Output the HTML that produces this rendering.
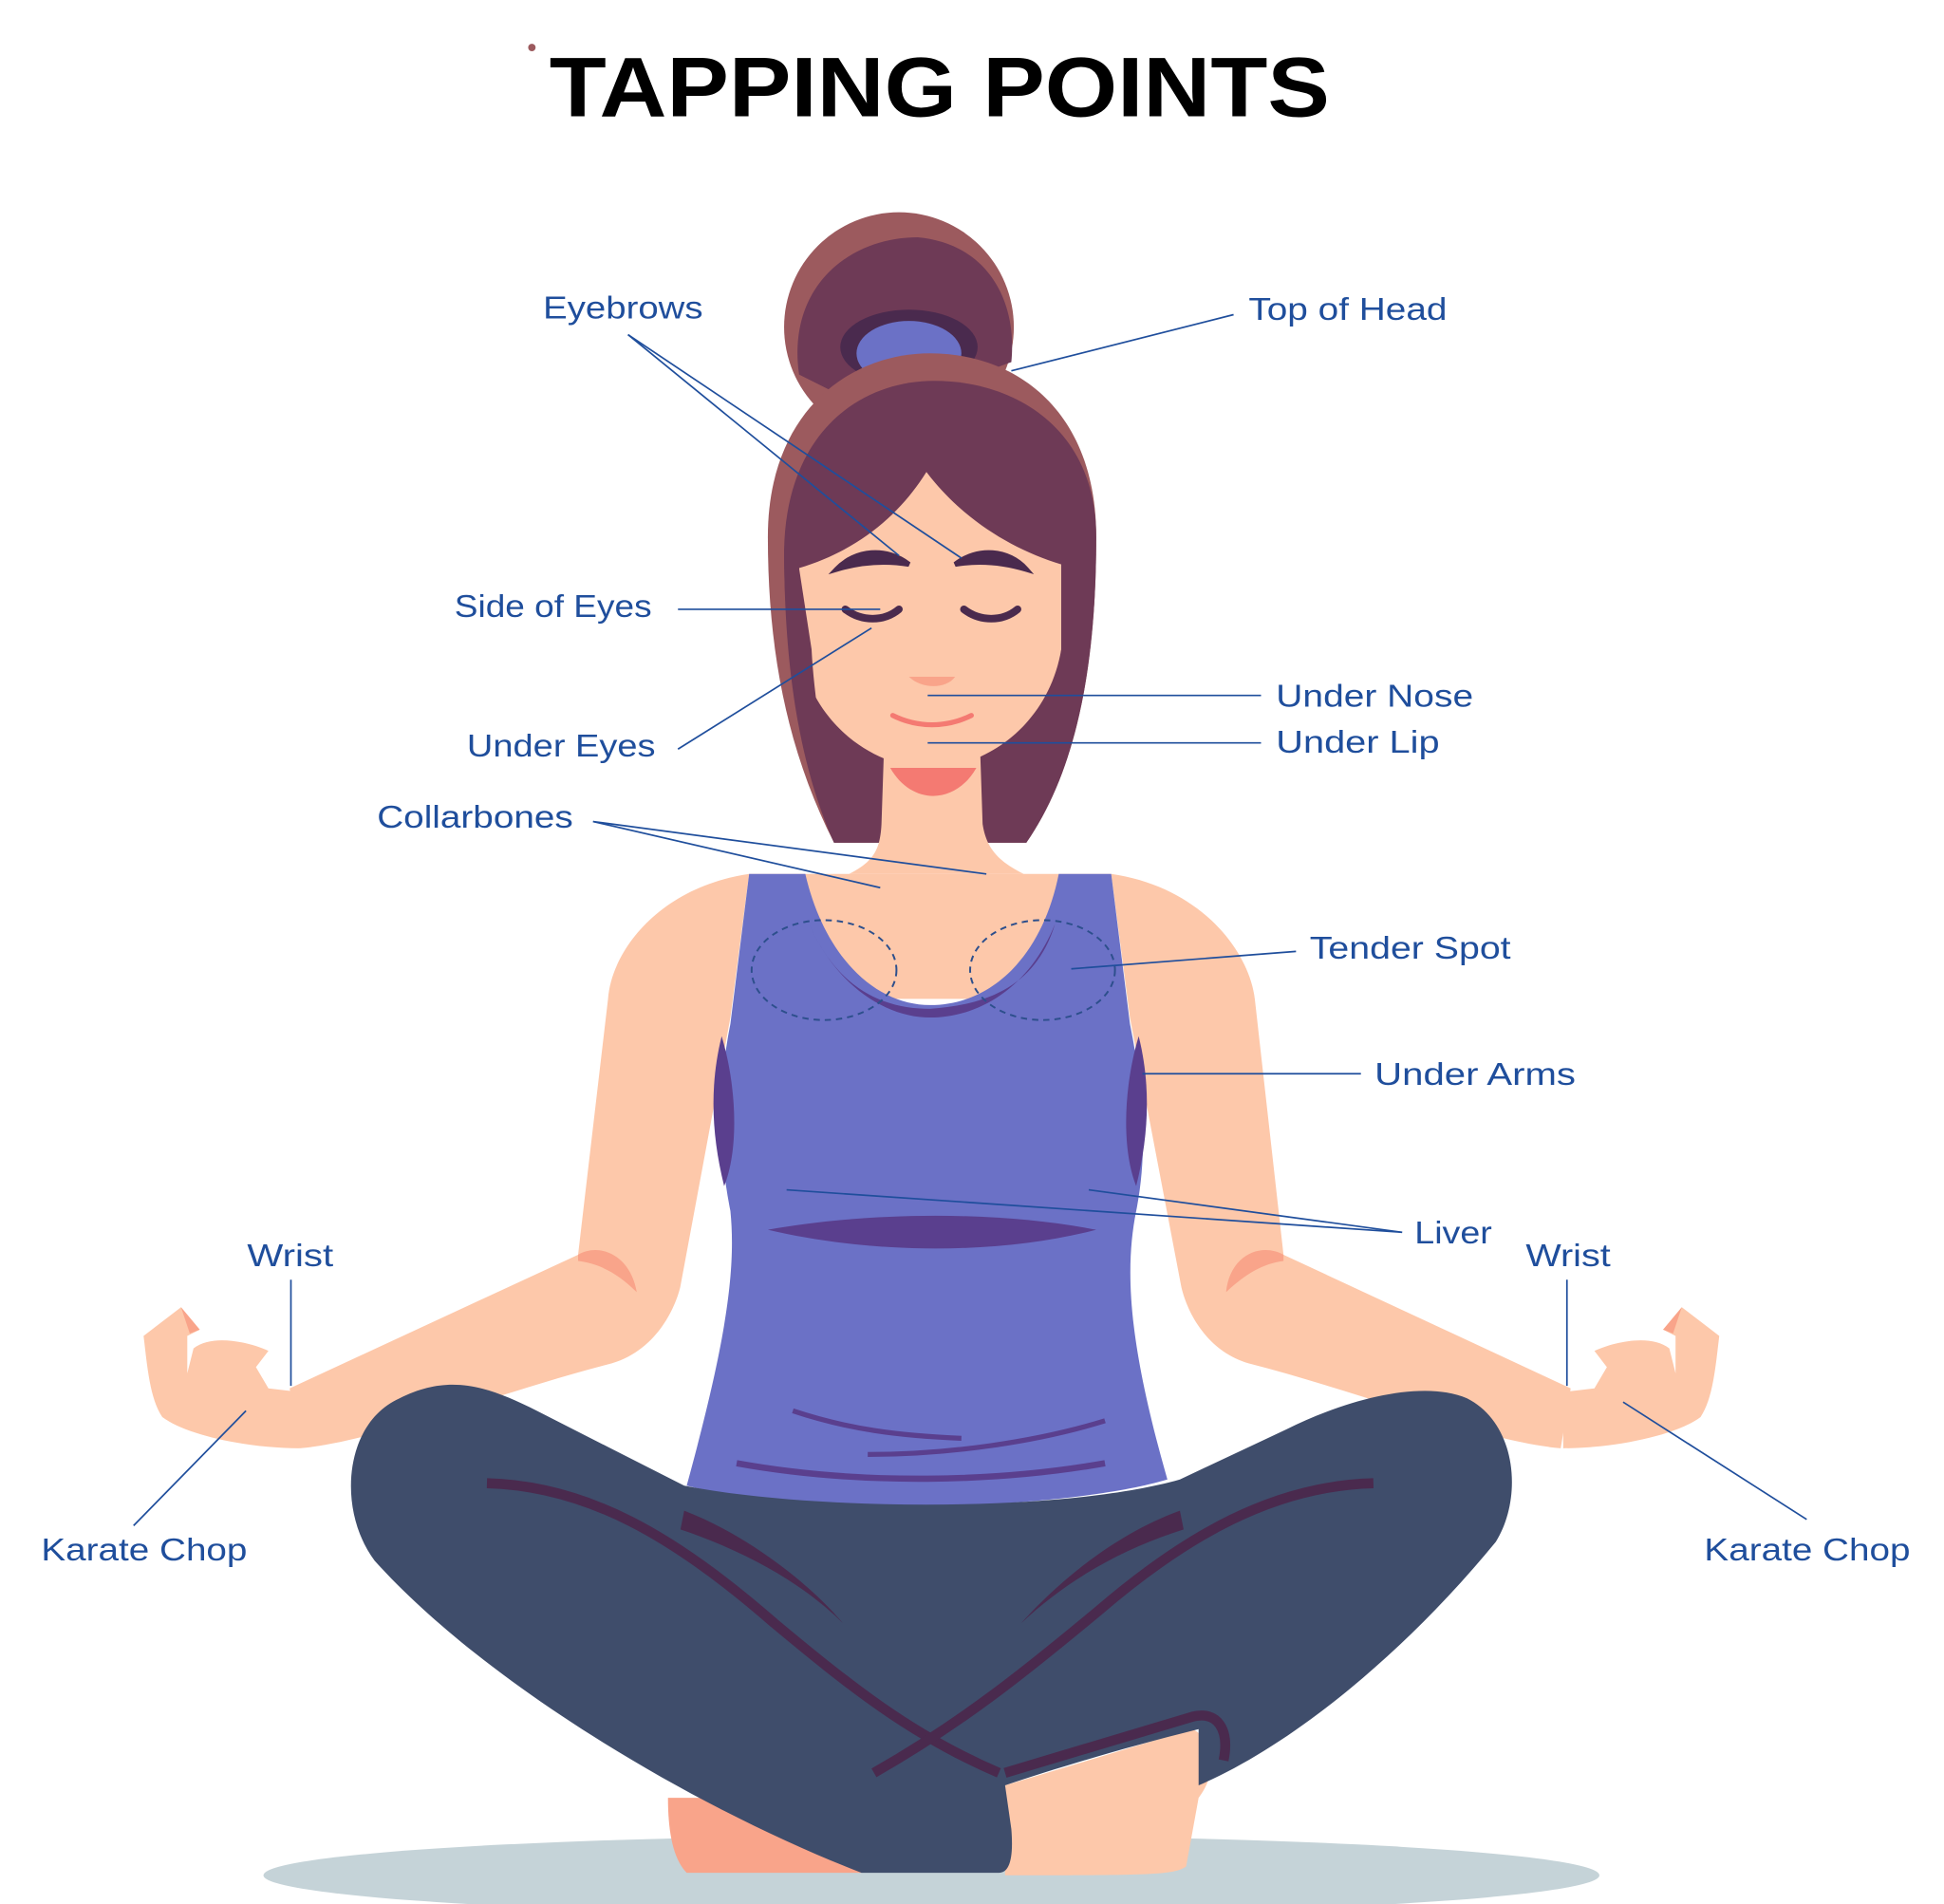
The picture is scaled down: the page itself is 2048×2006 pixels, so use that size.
<!DOCTYPE html>
<html><head><meta charset="utf-8"><style>
html,body{margin:0;padding:0;background:#fff;}
svg{display:block}
text{font-family:"Liberation Sans",sans-serif;}
</style></head><body>
<svg width="2048" height="2006" viewBox="0 0 1557 1525" xmlns="http://www.w3.org/2000/svg">
<rect width="1557" height="1525" fill="#fff"/>
<circle cx="426" cy="38" r="3" fill="#9c5a5e"/>
<text x="440" y="93" font-size="68" font-weight="bold" fill="#000" textLength="625" lengthAdjust="spacingAndGlyphs">TAPPING POINTS</text>

<ellipse cx="746" cy="1502" rx="535" ry="32" fill="#c5d3d8"/>

<circle cx="720" cy="262" r="92" fill="#9c5a5e"/>
<path d="M640,300 C630,230 680,190 735,190 C790,195 815,240 810,290 L700,330 Z" fill="#6e3a56"/>
<ellipse cx="728" cy="278" rx="55" ry="30" fill="#4a2a4e"/>
<ellipse cx="728" cy="283" rx="42" ry="26" fill="#6b71c6"/>

<path d="M668,675 C630,600 615,520 615,430 C615,330 680,283 745,283 C815,283 878,330 878,430 C878,540 860,620 822,675 Z" fill="#9c5a5e"/>
<path d="M668,675 C640,600 628,520 628,440 C630,345 690,305 748,305 C815,305 878,345 878,430 C878,540 860,620 822,675 Z" fill="#6e3a56"/>

<path d="M708,600 L785,600 L787,660 C790,680 800,690 820,700 L680,700 C700,690 705,680 706,660 Z" fill="#fdc8aa"/>
<path d="M713,615 C730,645 765,645 782,615 Z" fill="#f47a72"/>

<path d="M640,455 C690,440 722,410 742,378 C770,415 810,440 850,452 L850,520 C840,580 790,615 745,615 C700,615 650,580 640,520 Z" fill="#fdc8aa"/>
<path d="M628,440 C628,560 648,630 668,675 C660,600 652,560 650,520 L640,455 Z" fill="#6e3a56"/>
<path d="M850,450 L850,520 C845,580 835,630 822,675 C845,620 862,560 864,470 Z" fill="#6e3a56"/>
<path d="M670,456 C685,440 710,438 728,452 C710,449 690,450 670,456 Z" fill="#4a2a4e" stroke="#4a2a4e" stroke-width="4"/>
<path d="M765,452 C783,438 808,440 822,456 C802,450 782,449 765,452 Z" fill="#4a2a4e" stroke="#4a2a4e" stroke-width="4"/>
<path d="M677,488 C690,498 708,498 720,488" fill="none" stroke="#4a2a4e" stroke-width="6" stroke-linecap="round"/>
<path d="M772,488 C785,498 803,498 815,488" fill="none" stroke="#4a2a4e" stroke-width="6" stroke-linecap="round"/>
<path d="M728,542 L765,542 C758,552 738,552 728,542 Z" fill="#f9a48a"/>
<path d="M715,573 C735,583 758,583 778,573" fill="none" stroke="#f47a72" stroke-width="4" stroke-linecap="round"/>

<path d="M600,700 C530,710 490,760 487,800 L463,1005 L232,1112 L240,1160 C300,1155 400,1115 490,1092 C530,1080 543,1040 545,1030 L585,815 Z" fill="#fdc8aa"/>
<path d="M890,700 C960,710 1000,760 1005,800 L1028,1005 L1258,1112 L1250,1160 C1190,1155 1090,1115 1000,1092 C960,1080 948,1040 946,1030 L905,815 Z" fill="#fdc8aa"/>
<path d="M600,700 L890,700 L900,800 L590,800 Z" fill="#fdc8aa"/>
<path d="M463,1005 C480,995 505,1005 510,1035 C495,1020 480,1012 463,1010 Z" fill="#f9a48a"/>
<path d="M1028,1005 C1010,995 985,1005 982,1035 C998,1020 1012,1012 1028,1010 Z" fill="#f9a48a"/>
<path d="M115,1070 L145,1047 L160,1065 L150,1070 L150,1100 L155,1080 C170,1068 200,1075 215,1082 L205,1095 L215,1112 L240,1115 L240,1160 C200,1160 150,1150 130,1135 C120,1120 118,1095 115,1070 Z" fill="#fdc8aa"/>
<path d="M145,1047 L160,1065 L152,1068 Z" fill="#f9a48a"/>
<path d="M1377,1070 L1347,1047 L1332,1065 L1342,1070 L1342,1100 L1337,1080 C1322,1068 1292,1075 1277,1082 L1287,1095 L1277,1112 L1252,1115 L1252,1160 C1292,1160 1342,1150 1362,1135 C1372,1120 1374,1095 1377,1070 Z" fill="#fdc8aa"/>
<path d="M1347,1047 L1332,1065 L1340,1068 Z" fill="#f9a48a"/>

<path d="M600,700 L645,700 C660,765 700,805 745,805 C795,805 835,765 848,700 L890,700 L905,820 C915,870 920,920 910,970 C900,1020 905,1080 935,1185 C850,1210 650,1215 550,1190 C580,1080 590,1020 585,970 C575,920 575,870 585,820 Z" fill="#6b71c6"/>
<path d="M648,740 C670,790 710,815 745,815 C785,815 825,790 845,740 C830,790 790,805 745,808 C705,808 670,790 648,740 Z" fill="#5a3f8e"/>
<path d="M578,830 C590,870 592,920 580,950 C570,910 568,870 578,830 Z" fill="#5a3f8e"/>
<path d="M912,830 C900,870 898,920 910,950 C920,910 922,870 912,830 Z" fill="#5a3f8e"/>
<path d="M615,985 C700,970 800,970 878,985 C800,1005 700,1005 615,985 Z" fill="#5a3f8e"/>
<path d="M635,1130 C680,1145 720,1150 770,1152" fill="none" stroke="#5a3f8e" stroke-width="4"/>
<path d="M695,1165 C760,1165 830,1155 885,1138" fill="none" stroke="#5a3f8e" stroke-width="4"/>
<path d="M590,1172 C690,1190 800,1187 885,1172" fill="none" stroke="#5a3f8e" stroke-width="5"/>

<path d="M535,1440 L700,1440 L690,1500 L550,1500 C540,1490 535,1470 535,1440 Z" fill="#f9a48a"/>
<path d="M805,1430 L955,1385 C975,1395 975,1420 960,1440 L950,1495 C940,1502 920,1502 805,1502 Z" fill="#fdc8aa"/>

<path d="M548,1190 C650,1210 850,1212 945,1185 L1030,1145 C1080,1120 1140,1105 1175,1120 C1215,1140 1220,1200 1198,1235 C1120,1330 1030,1400 960,1430 L960,1385 C900,1400 850,1415 805,1430 L810,1465 C812,1490 808,1500 800,1500 L690,1500 C560,1450 390,1350 300,1250 C270,1210 275,1140 320,1120 C360,1100 390,1110 430,1130 Z" fill="#3f4d6b"/>
<path d="M390,1188 C470,1190 540,1230 620,1300 C680,1350 730,1390 800,1420" fill="none" stroke="#4a2a4e" stroke-width="8"/>
<path d="M1100,1188 C1020,1190 950,1230 880,1290 C820,1340 770,1380 700,1420" fill="none" stroke="#4a2a4e" stroke-width="8"/>
<path d="M548,1210 C600,1230 650,1270 675,1300 C640,1265 590,1240 545,1225 Z" fill="#4a2a4e"/>
<path d="M945,1210 C890,1230 845,1270 818,1300 C855,1265 900,1240 948,1225 Z" fill="#4a2a4e"/>
<path d="M805,1420 L955,1375 C975,1370 985,1385 980,1410" fill="none" stroke="#4a2a4e" stroke-width="8"/>

<ellipse cx="660" cy="777" rx="58" ry="40" fill="none" stroke="#2d4f8c" stroke-width="1.5" stroke-dasharray="5,4"/>
<ellipse cx="835" cy="777" rx="58" ry="40" fill="none" stroke="#2d4f8c" stroke-width="1.5" stroke-dasharray="5,4"/>

<g stroke="#1f4e9c" stroke-width="1.3" fill="none">
<line x1="503" y1="268" x2="720" y2="445"/>
<line x1="503" y1="268" x2="770" y2="447"/>
<line x1="988" y1="252" x2="810" y2="297"/>
<line x1="543" y1="488" x2="705" y2="488"/>
<line x1="543" y1="600" x2="698" y2="503"/>
<line x1="743" y1="557" x2="1010" y2="557"/>
<line x1="743" y1="595" x2="1010" y2="595"/>
<line x1="475" y1="658" x2="705" y2="711"/>
<line x1="475" y1="658" x2="790" y2="700"/>
<line x1="858" y1="776" x2="1038" y2="762"/>
<line x1="915" y1="860" x2="1090" y2="860"/>
<line x1="630" y1="953" x2="1123" y2="987"/>
<line x1="872" y1="953" x2="1123" y2="987"/>
<line x1="233" y1="1025" x2="233" y2="1110"/>
<line x1="1255" y1="1025" x2="1255" y2="1110"/>
<line x1="107" y1="1222" x2="197" y2="1130"/>
<line x1="1447" y1="1217" x2="1300" y2="1123"/>
</g>

<g fill="#1f4e9c" font-size="25">
<text x="435" y="255" textLength="128" lengthAdjust="spacingAndGlyphs">Eyebrows</text>
<text x="1000" y="256" textLength="159" lengthAdjust="spacingAndGlyphs">Top of Head</text>
<text x="364" y="494" textLength="158" lengthAdjust="spacingAndGlyphs">Side of Eyes</text>
<text x="374" y="606" textLength="151" lengthAdjust="spacingAndGlyphs">Under Eyes</text>
<text x="1022" y="566" textLength="158" lengthAdjust="spacingAndGlyphs">Under Nose</text>
<text x="1022" y="603" textLength="131" lengthAdjust="spacingAndGlyphs">Under Lip</text>
<text x="302" y="663" textLength="157" lengthAdjust="spacingAndGlyphs">Collarbones</text>
<text x="1049" y="768" textLength="161" lengthAdjust="spacingAndGlyphs">Tender Spot</text>
<text x="1101" y="869" textLength="161" lengthAdjust="spacingAndGlyphs">Under Arms</text>
<text x="1133" y="996" textLength="62" lengthAdjust="spacingAndGlyphs">Liver</text>
<text x="198" y="1014" textLength="69" lengthAdjust="spacingAndGlyphs">Wrist</text>
<text x="1222" y="1014" textLength="68" lengthAdjust="spacingAndGlyphs">Wrist</text>
<text x="33" y="1250" textLength="165" lengthAdjust="spacingAndGlyphs">Karate Chop</text>
<text x="1365" y="1250" textLength="165" lengthAdjust="spacingAndGlyphs">Karate Chop</text>
</g>
</svg>
</body></html>
